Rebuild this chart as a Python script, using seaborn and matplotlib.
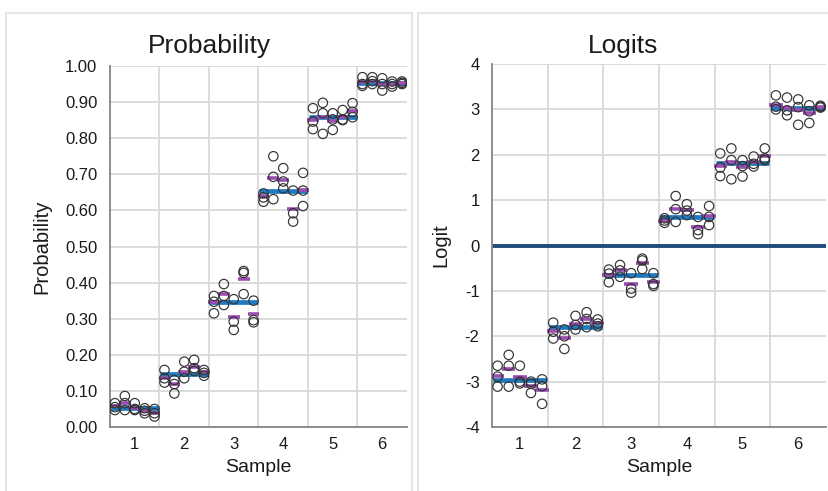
import numpy as np
import pandas as pd
import matplotlib
matplotlib.use("Agg")
import matplotlib.pyplot as plt
import seaborn as sns
from matplotlib.patches import Rectangle
from matplotlib.ticker import FormatStrFormatter, FixedLocator

# ---------------- data ----------------
samples = [1, 2, 3, 4, 5, 6]
sample_labels = ["1", "2", "3", "4", "5", "6"]
col_offsets = [-0.4, -0.2, 0.0, 0.2, 0.4]

# Probability panel: per sample, 5 replicate columns x 3 points
prob_s1 = [[0.066, 0.055, 0.047], [0.086, 0.066, 0.047], [0.066, 0.050, 0.047], [0.052, 0.045, 0.038], [0.050, 0.038, 0.029]]
prob_s2 = [[0.158, 0.135, 0.123], [0.130, 0.119, 0.093], [0.181, 0.153, 0.135], [0.186, 0.163, 0.155], [0.158, 0.150, 0.142]]
prob_s3 = [[0.363, 0.347, 0.315], [0.396, 0.363, 0.338], [0.354, 0.292, 0.269], [0.432, 0.427, 0.368], [0.350, 0.296, 0.290]]
prob_s4 = [[0.647, 0.636, 0.624], [0.750, 0.693, 0.631], [0.717, 0.680, 0.661], [0.655, 0.592, 0.569], [0.704, 0.655, 0.612]]
prob_s5 = [[0.883, 0.846, 0.825], [0.898, 0.869, 0.812], [0.869, 0.852, 0.823], [0.878, 0.852, 0.850], [0.897, 0.873, 0.858]]
prob_s6 = [[0.969, 0.950, 0.945], [0.969, 0.958, 0.950], [0.966, 0.950, 0.932], [0.957, 0.950, 0.943], [0.957, 0.953, 0.950]]
prob_col_means = [[0.058, 0.066, 0.054, 0.044, 0.040],
                  [0.137, 0.118, 0.153, 0.167, 0.151],
                  [0.345, 0.368, 0.304, 0.410, 0.313],
                  [0.640, 0.690, 0.684, 0.603, 0.657],
                  [0.850, 0.860, 0.848, 0.860, 0.876],
                  [0.955, 0.959, 0.950, 0.950, 0.953]]
prob_sample_means = [0.052, 0.147, 0.347, 0.655, 0.860, 0.954]

# Logit panel
logit_s1 = [[-2.65, -2.89, -3.11], [-2.41, -2.65, -3.11], [-2.65, -3.04, -3.00], [-3.00, -3.05, -3.25], [-2.95, -3.10, -3.49]]
logit_s2 = [[-1.70, -1.90, -2.05], [-1.85, -2.00, -2.28], [-1.55, -1.75, -1.85], [-1.47, -1.62, -1.80], [-1.63, -1.72, -1.78]]
logit_s3 = [[-0.53, -0.62, -0.81], [-0.43, -0.55, -0.69], [-0.61, -0.95, -1.04], [-0.29, -0.33, -0.52], [-0.61, -0.85, -0.89]]
logit_s4 = [[0.60, 0.55, 0.50], [1.09, 0.80, 0.52], [0.91, 0.77, 0.67], [0.63, 0.34, 0.25], [0.87, 0.63, 0.45]]
logit_s5 = [[2.03, 1.72, 1.53], [2.14, 1.88, 1.46], [1.88, 1.75, 1.52], [1.96, 1.80, 1.74], [2.14, 1.92, 1.88]]
logit_s6 = [[3.31, 3.06, 3.00], [3.26, 2.98, 2.87], [3.22, 3.05, 2.66], [3.09, 2.96, 2.70], [3.08, 3.06, 3.04]]
logit_col_means = [[-2.87, -2.73, -2.90, -3.09, -3.18],
                   [-1.88, -2.04, -1.72, -1.63, -1.71],
                   [-0.65, -0.55, -0.85, -0.38, -0.80],
                   [0.55, 0.80, 0.78, 0.41, 0.65],
                   [1.76, 1.83, 1.72, 1.83, 1.98],
                   [3.09, 3.04, 2.98, 2.92, 3.06]]
logit_sample_means = [-2.96, -1.80, -0.65, 0.63, 1.82, 3.02]

prob_ticks = [0.0, 0.1, 0.2, 0.3, 0.4, 0.5, 0.6, 0.7, 0.8, 0.9, 1.0]
logit_ticks = [-4, -3, -2, -1, 0, 1, 2, 3, 4]

# ---------------- styling ----------------
sns.set_theme(style="white")
plt.rcParams["font.family"] = ["Liberation Sans", "DejaVu Sans"]
plt.rcParams["axes.unicode_minus"] = False

BLUE = "#1F7BC1"
PURPLE = "#9B4DB3"
NAVY = "#1F4A7C"
GRID = "#D9D9D9"
AXIS = "#868686"
TXT = "#1a1a1a"

W, H = 829, 491
fig = plt.figure(figsize=(W / 100, H / 100), dpi=100)


def fx(px):
    return px / W


def fy(py):
    return 1 - py / H


# panel frames
for x0, x1 in [(6, 412), (418, 836)]:
    fig.patches.append(Rectangle((fx(x0), fy(500)), fx(x1 - x0), (500 - 13) / H,
                                 transform=fig.transFigure, fill=False,
                                 edgecolor="#E6E6E6", linewidth=1.6, zorder=0))


def long_df(arrs):
    rows = []
    for s, arr in zip(samples, arrs):
        for off, col in zip(col_offsets, arr):
            for v in col:
                rows.append({"x": s + off, "value": v})
    return pd.DataFrame(rows)


def draw_panel(ax, arrs, col_means, sample_means, ticks, ylims):
    ax.set_xlim(0.5, 6.5)
    ax.set_ylim(*ylims)
    # grid
    for t in ticks:
        ax.axhline(t, color=GRID, lw=1.3, zorder=0.5)
    for b in np.arange(1.5, 6.5, 1.0):
        ax.axvline(b, color=GRID, lw=1.3, zorder=0.5)
    # sample means (blue)
    ax.hlines(sample_means, np.array(samples) - 0.48, np.array(samples) + 0.48,
              color=BLUE, lw=3.4, zorder=2)
    # column means (purple)
    for s, cm in zip(samples, col_means):
        xs = s + np.array(col_offsets)
        ax.hlines(cm, xs - 0.12, xs + 0.12, color=PURPLE, lw=2.6, zorder=2.5)
    df = long_df(arrs)
    sns.scatterplot(data=df, x="x", y="value", ax=ax, s=46, marker="o",
                    color="none", edgecolor="#333333", linewidth=0.85, zorder=3,
                    legend=False)
    ax.collections[-1].set_facecolor("none")
    # axes
    for sp in ["top", "right"]:
        ax.spines[sp].set_visible(False)
    for sp in ["left", "bottom"]:
        ax.spines[sp].set_color(AXIS)
        ax.spines[sp].set_linewidth(1.3)
    ax.set_xticks(samples)
    ax.set_xticklabels(sample_labels)
    ax.xaxis.set_minor_locator(FixedLocator(np.arange(0.5, 7.0, 1.0)))
    ax.tick_params(axis="x", which="major", length=0, labelsize=12, colors=TXT, pad=7)
    ax.tick_params(axis="x", which="minor", length=5, width=1.3, color=AXIS, direction="out")
    ax.set_yticks(ticks)
    ax.tick_params(axis="y", which="major", length=5, width=1.3, color=AXIS,
                   direction="out", labelsize=12, labelcolor=TXT, pad=4)
    ax.set_xlabel("Sample", fontsize=14, color=TXT, labelpad=5)


# left panel
axL = fig.add_axes([fx(110), fy(427), fx(407 - 110), (427 - 66) / H])
draw_panel(axL, [prob_s1, prob_s2, prob_s3, prob_s4, prob_s5, prob_s6],
           prob_col_means, prob_sample_means, prob_ticks, (0, 1.0))
axL.yaxis.set_major_formatter(FormatStrFormatter("%.2f"))
axL.set_ylabel("Probability", fontsize=14.5, color=TXT, labelpad=10)

# right panel
axR = fig.add_axes([fx(492), fy(427), fx(826 - 492), (427 - 64) / H])
draw_panel(axR, [logit_s1, logit_s2, logit_s3, logit_s4, logit_s5, logit_s6],
           logit_col_means, logit_sample_means, logit_ticks, (-4, 4))
axR.axhline(0, color=NAVY, lw=2.8, zorder=1.5)
axR.set_ylabel("Logit", fontsize=14.5, color=TXT, labelpad=10)

# titles centred on panel frames
fig.text(fx(209), fy(53), "Probability", ha="center", va="baseline", fontsize=19, color=TXT)
fig.text(fx(623), fy(53), "Logits", ha="center", va="baseline", fontsize=19, color=TXT)

fig.savefig("out.png", dpi=100)
